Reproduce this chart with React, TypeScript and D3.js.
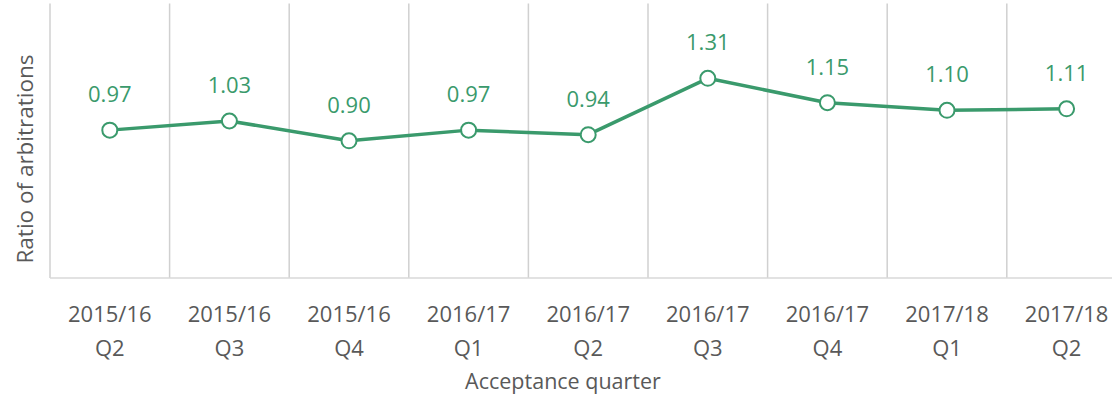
import React from "react";
import * as d3 from "d3";

const categories = [
  ["2015/16", "Q2"],
  ["2015/16", "Q3"],
  ["2015/16", "Q4"],
  ["2016/17", "Q1"],
  ["2016/17", "Q2"],
  ["2016/17", "Q3"],
  ["2016/17", "Q4"],
  ["2017/18", "Q1"],
  ["2017/18", "Q2"],
];
const values = [0.97, 1.03, 0.9, 0.97, 0.94, 1.31, 1.15, 1.1, 1.11];
const labels = ["0.97", "1.03", "0.90", "0.97", "0.94", "1.31", "1.15", "1.10", "1.11"];
const yDomain = [0, 1.8];

const W = 1112;
const H = 400;
const left = 50;
const bandW = 119.6;
const top = 3.6;
const bottom = 278;
const FONT = "'Open Sans', 'Noto Sans', sans-serif";
const GREEN = "#3a9a6c";
const GREY = "#595959";

export default function App() {
  const keys = categories.map((c) => c.join(" "));
  const x = d3.scaleBand().domain(keys).range([left, left + bandW * keys.length]).padding(0);
  const y = d3.scaleLinear().domain(yDomain).range([bottom, top]);
  const pts = values.map((v, i) => [x(keys[i])! + x.bandwidth() / 2, y(v)] as [number, number]);
  const line = d3.line()(pts) || "";
  return (
    <svg width={W} height={H} style={{ position: "absolute", left: 0, top: 0, background: "#fff" }}>
      {keys.map((k) => (
        <line key={k} x1={x(k)!} x2={x(k)!} y1={y(yDomain[1])} y2={bottom} stroke="#d0d0d0" strokeWidth={1.5} />
      ))}
      <line x1={left} x2={W} y1={bottom} y2={bottom} stroke="#d9d9d9" strokeWidth={1.5} />
      <path d={line} fill="none" stroke={GREEN} strokeWidth={3.5} strokeLinejoin="round" />
      {pts.map((p, i) => (
        <circle key={i} cx={p[0]} cy={p[1]} r={7.5} fill="#fff" stroke={GREEN} strokeWidth={2} />
      ))}
      {pts.map((p, i) => (
        <text key={"l" + i} x={p[0]} y={p[1] - 28} textAnchor="middle" fontFamily={FONT} fontSize={22} fill={GREEN}>
          {labels[i]}
        </text>
      ))}
      {categories.map((c, i) => {
        const cx = x(keys[i])! + x.bandwidth() / 2;
        return (
          <text key={"t" + i} textAnchor="middle" fontFamily={FONT} fontSize={22} fill={GREY}>
            <tspan x={cx} y={322}>{c[0]}</tspan>
            <tspan x={cx} y={356}>{c[1]}</tspan>
          </text>
        );
      })}
      <text x={563} y={389} textAnchor="middle" fontFamily={FONT} fontSize={21.5} fill={GREY}>
        Acceptance quarter
      </text>
      <text transform="translate(33,159) rotate(-90)" textAnchor="middle" fontFamily={FONT} fontSize={22.5} fill={GREY}>
        Ratio of arbitrations
      </text>
    </svg>
  );
}
